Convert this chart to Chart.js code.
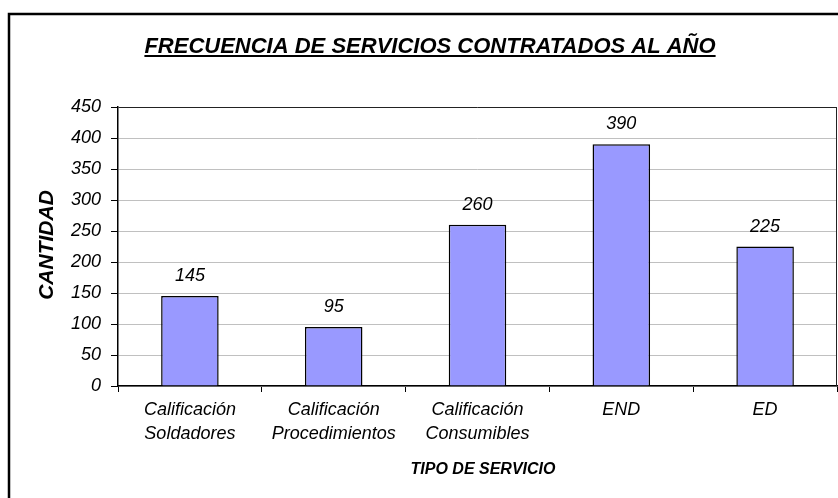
<!DOCTYPE html>
<html>
<head>
<meta charset="utf-8">
<script src="https://cdn.jsdelivr.net/npm/chart.js@4.4.1/dist/chart.umd.min.js"></script>
<style>
  body { margin: 0; background: #fff; }
  canvas { display: block; }
</style>
</head>
<body>
<canvas id="grafico" width="838" height="498"></canvas>
<script>
// Datos del gráfico
const categorias = [
    ['Calificación', 'Soldadores'],
    ['Calificación', 'Procedimientos'],
    ['Calificación', 'Consumibles'],
    'END',
    'ED'
];
const cantidades = [145, 95, 260, 390, 225];
const ejeMin = 0;
const ejeMax = 450;
const ejePaso = 50;

const titulo = 'FRECUENCIA DE SERVICIOS CONTRATADOS AL AÑO';
const tituloY = 'CANTIDAD';
const tituloX = 'TIPO DE SERVICIO';

const FUENTE = '"Liberation Sans", Arial, sans-serif';

// Marco, título, títulos de ejes y etiquetas de valores
const decoracion = {
    id: 'decoracion',
    afterDraw(chart) {
        const ctx = chart.ctx;
        const area = chart.chartArea;
        ctx.save();

        // marco exterior
        ctx.strokeStyle = '#000';
        ctx.lineWidth = 2.5;
        ctx.strokeRect(9, 14, 860, 500);

        // borde derecho del área de trazado
        ctx.lineWidth = 1;
        ctx.strokeStyle = '#222';
        ctx.beginPath();
        ctx.moveTo(area.right - 0.5, area.top);
        ctx.lineTo(area.right - 0.5, area.bottom);
        ctx.stroke();

        // título subrayado
        ctx.fillStyle = '#000';
        ctx.font = 'italic bold 22px ' + FUENTE;
        ctx.textAlign = 'center';
        ctx.textBaseline = 'alphabetic';
        const tx = 430, ty = 53;
        ctx.fillText(titulo, tx, ty);
        const w = ctx.measureText(titulo).width;
        ctx.fillRect(tx - w / 2, ty + 2, w, 2);

        // título eje Y
        ctx.save();
        ctx.translate(47, 245);
        ctx.rotate(-Math.PI / 2);
        ctx.font = 'italic bold 21px ' + FUENTE;
        ctx.textBaseline = 'middle';
        ctx.fillText(tituloY, 0, 0);
        ctx.restore();

        // título eje X
        ctx.font = 'italic bold 16px ' + FUENTE;
        ctx.textBaseline = 'middle';
        ctx.fillText(tituloX, 483, 470);

        // etiquetas de valores
        ctx.font = 'italic 18px ' + FUENTE;
        const meta = chart.getDatasetMeta(0);
        meta.data.forEach((barra, i) => {
            ctx.fillText(String(cantidades[i]), barra.x, barra.y - 20);
        });
        ctx.restore();
    }
};

new Chart(document.getElementById('grafico').getContext('2d'), {
    type: 'bar',
    data: {
        labels: categorias,
        datasets: [{
            data: cantidades,
            backgroundColor: '#9999ff',
            borderColor: '#000',
            borderWidth: 1.5,
            barPercentage: 0.4,
            categoryPercentage: 1
        }]
    },
    options: {
        responsive: false,
        animation: false,
        devicePixelRatio: 1,
        layout: { padding: { top: 107, right: 1, left: 0, bottom: 0 } },
        plugins: {
            legend: { display: false },
            tooltip: { enabled: false }
        },
        scales: {
            x: {
                afterFit(escala) { escala.height = 112; },
                grid: {
                    offset: true,
                    drawOnChartArea: false,
                    drawTicks: true,
                    tickLength: 6,
                    tickColor: '#000'
                },
                border: { color: '#000', width: 1.5 },
                ticks: {
                    color: '#000',
                    maxRotation: 0,
                    autoSkip: false,
                    padding: 6,
                    font: { family: FUENTE, size: 18, style: 'italic', lineHeight: 1.35 }
                }
            },
            y: {
                min: ejeMin,
                max: ejeMax,
                afterFit(escala) { escala.width = 118; },
                grid: {
                    color: ctx => ctx.tick && ctx.tick.value === ejeMax ? '#222' : '#c0c0c0',
                    lineWidth: 1,
                    tickLength: 7,
                    tickColor: '#000'
                },
                border: { color: '#000', width: 1.5 },
                ticks: {
                    stepSize: ejePaso,
                    color: '#000',
                    padding: 10,
                    font: { family: FUENTE, size: 18, style: 'italic' }
                }
            }
        }
    },
    plugins: [decoracion]
});
</script>
</body>
</html>
